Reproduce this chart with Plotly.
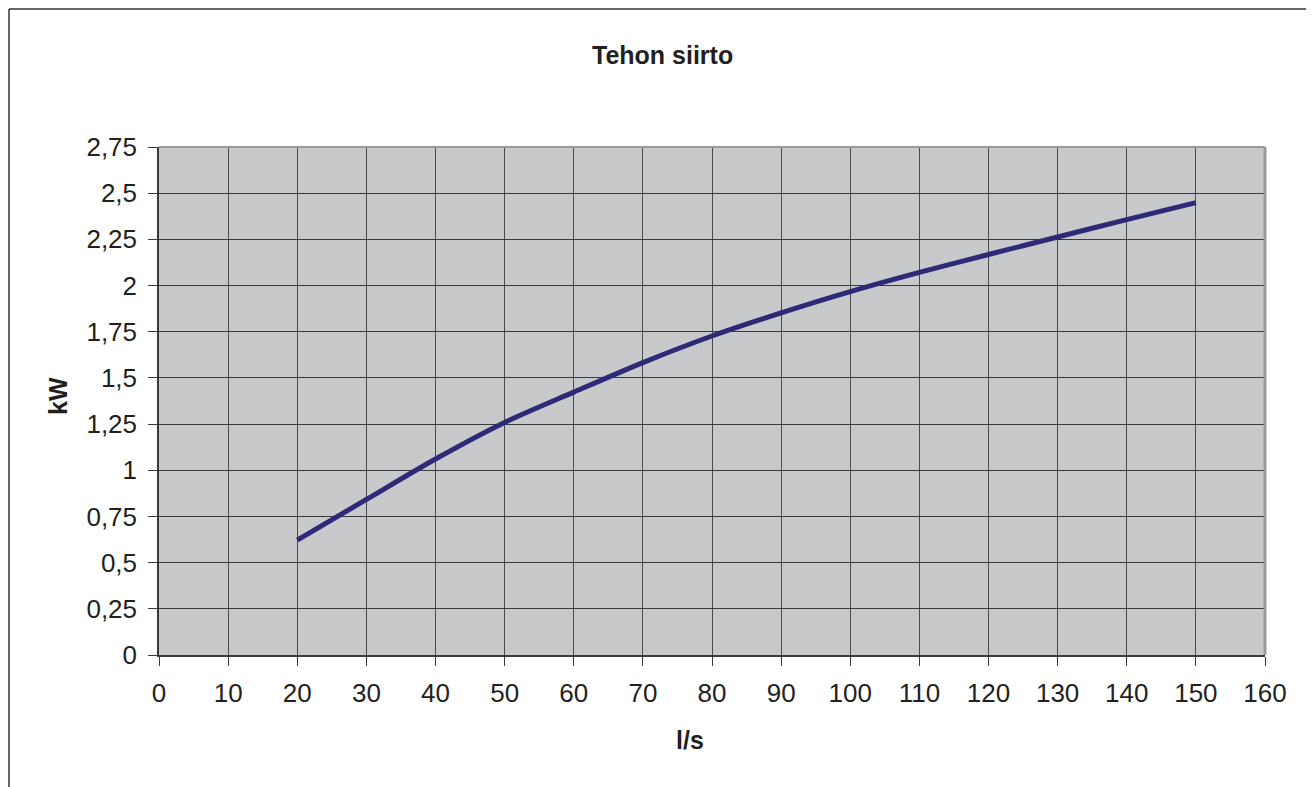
import plotly.graph_objects as go

# Data
flow_ls = [20, 30, 40, 50, 60, 70, 80, 90, 100, 110, 120, 130, 140, 150]
power_kw = [0.622, 0.842, 1.061, 1.259, 1.423, 1.583, 1.727, 1.852, 1.967, 2.071, 2.168, 2.263, 2.357, 2.449]

x_ticks = list(range(0, 161, 10))
y_ticks = [0, 0.25, 0.5, 0.75, 1, 1.25, 1.5, 1.75, 2, 2.25, 2.5, 2.75]
y_tick_text = ["0", "0,25", "0,5", "0,75", "1", "1,25", "1,5", "1,75", "2", "2,25", "2,5", "2,75"]

title_text = "Tehon siirto"
x_title = "l/s"
y_title = "kW"

OFF = 8  # page body margin
W, H = 1314 - OFF, 787 - OFF
L, R, T, B = 159 - OFF, 1265 - OFF, 147 - OFF, 655 - OFF
pw, ph = R - L, B - T

def px_x(px):
    return (px - OFF - L) / pw

def px_y(py):
    return (B - (py - OFF)) / ph

font_family = "Liberation Sans, Arial, sans-serif"
text_color = "#231f20"

fig = go.Figure()
fig.add_trace(go.Scatter(
    x=flow_ls, y=power_kw, mode="lines",
    line=dict(color="#2e2a78", width=5, shape="spline", smoothing=0.8),
    showlegend=False, hoverinfo="skip",
))

fig.update_layout(
    width=W, height=H,
    margin=dict(l=L, r=W - R, t=T, b=H - B, pad=0),
    paper_bgcolor="white",
    plot_bgcolor="#c8c9cb",
    font=dict(family=font_family, size=26, color=text_color),
    showlegend=False,
)

fig.update_xaxes(
    range=[0, 160], tickvals=x_ticks, ticktext=[str(v) for v in x_ticks],
    showgrid=True, gridcolor="#4a4a4a", gridwidth=1.3,
    showline=True, linecolor="#3a3a3a", linewidth=1.5,
    ticks="outside", ticklen=9, tickcolor="#3a3a3a", tickwidth=1.3,
    tickfont=dict(size=26, color=text_color), zeroline=False,
    ticklabelstandoff=5,
)
fig.update_yaxes(
    range=[0, 2.75], tickvals=y_ticks, ticktext=y_tick_text,
    showgrid=True, gridcolor="#3a3a3a", gridwidth=1.3,
    showline=True, linecolor="#3a3a3a", linewidth=1.5,
    ticks="outside", ticklen=9, tickcolor="#3a3a3a", tickwidth=1.3,
    tickfont=dict(size=26, color=text_color), zeroline=False,
    ticklabelstandoff=6,
)

# right and top plot-area edges (grey)
fig.add_shape(type="line", xref="paper", yref="paper", x0=1, x1=1, y0=0, y1=1,
              line=dict(color="#9a9a9a", width=3))
fig.add_shape(type="line", xref="paper", yref="paper", x0=0, x1=1, y0=1, y1=1,
              line=dict(color="#9a9a9a", width=2))
# outer chart border (left and top)
fig.add_shape(type="line", xref="paper", yref="paper",
              x0=px_x(9), x1=px_x(9), y0=px_y(9), y1=px_y(800),
              line=dict(color="#333333", width=1.5))
fig.add_shape(type="line", xref="paper", yref="paper",
              x0=px_x(9), x1=px_x(1330), y0=px_y(9), y1=px_y(9),
              line=dict(color="#333333", width=1.5))

fig.add_annotation(text="<b>" + title_text + "</b>", xref="paper", yref="paper",
                   x=px_x(662), y=px_y(55), showarrow=False,
                   font=dict(size=25, color=text_color), xanchor="center", yanchor="middle")
fig.add_annotation(text="<b>" + y_title + "</b>", xref="paper", yref="paper",
                   x=px_x(58), y=px_y(396), showarrow=False, textangle=-90,
                   font=dict(size=25, color=text_color), xanchor="center", yanchor="middle")
fig.add_annotation(text="<b>" + x_title + "</b>", xref="paper", yref="paper",
                   x=px_x(690), y=px_y(740), showarrow=False,
                   font=dict(size=25, color=text_color), xanchor="center", yanchor="middle")

fig.write_html("out.html")
